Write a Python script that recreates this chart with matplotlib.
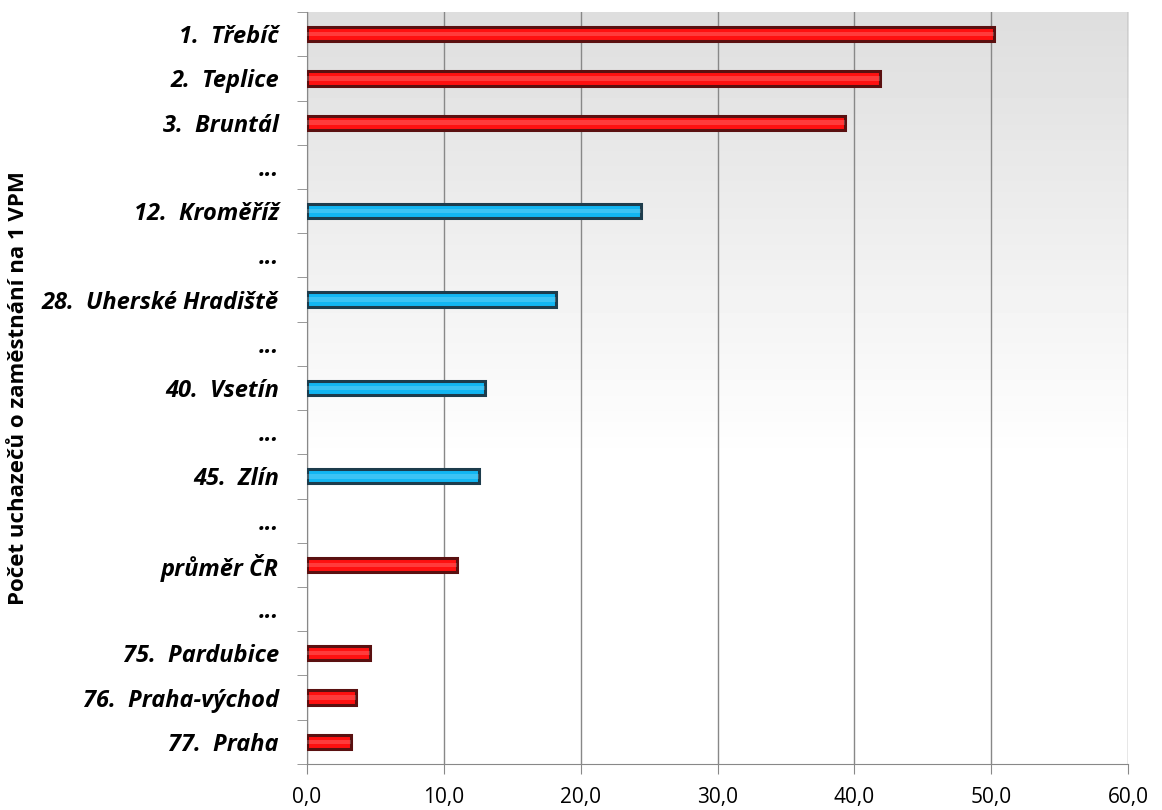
import numpy as np
import matplotlib
matplotlib.use("Agg")
from matplotlib import pyplot as plt

# data (top to bottom)
labels = ["1.  Třebíč", "2.  Teplice", "3.  Bruntál", "...", "12.  Kroměříž", "...",
          "28.  Uherské Hradiště", "...", "40.  Vsetín", "...", "45.  Zlín", "...",
          "průměr ČR", "...", "75.  Pardubice", "76.  Praha-východ", "77.  Praha"]
values = [50.2, 41.9, 39.3, 0, 24.4, 0, 18.2, 0, 13.0, 0, 12.6, 0, 11.0, 0, 4.6, 3.6, 3.2]
groups = ["r", "r", "r", "", "b", "", "b", "", "b", "", "b", "", "r", "", "r", "r", "r"]
xticks = [0, 10, 20, 30, 40, 50, 60]

face = {"r": "#ff1010", "b": "#12b6f2"}
edge = {"r": "#5a1010", "b": "#1d3c4c"}

plt.rcParams['font.family'] = ['Open Sans', 'DejaVu Sans']

fig = plt.figure(figsize=(11.62, 8.10), dpi=100)
ax = fig.add_axes([0.264, 0.057, 0.707, 0.928])

# gray gradient background, darker at the top
t = np.linspace(0, 1, 200)
grad = np.clip(0.87 + 0.13 * (t / 0.6), 0, 1)[:, None] * np.ones((1, 2))
ax.imshow(grad, extent=[0, 1, 0, 1], origin="upper", transform=ax.transAxes, cmap="gray",
          vmin=0, vmax=1, aspect="auto", zorder=0)

y = np.arange(len(labels))
for yi, v, g in zip(y, values, groups):
    if not g:
        continue
    ax.barh(yi, v, height=0.32, color=face[g], edgecolor=edge[g], linewidth=2.2, zorder=3)
    ax.barh(yi, v, height=0.1, color="white", alpha=0.18, linewidth=0, zorder=4)

ax.set_xlim(0, 60)
ax.set_ylim(len(labels) - 0.5, -0.5)
ax.set_xticks(xticks)
ax.set_xticklabels([f"{v:.1f}".replace(".", ",") for v in xticks], fontsize=15)
ax.set_yticks(y)
ax.set_yticklabels(labels, fontsize=17, fontweight="bold", fontstyle="italic")
ax.set_yticks(np.arange(-0.5, len(labels), 1), minor=True)
ax.tick_params(axis="y", which="major", length=0, pad=20)
ax.tick_params(axis="y", which="minor", length=7, color="#888888")
ax.tick_params(axis="x", length=7, color="#888888", pad=10)
ax.grid(axis="x", color="#888888", linewidth=1, zorder=1)
ax.set_axisbelow(True)
for s in ["top", "right"]:
    ax.spines[s].set_visible(False)
for s in ["left", "bottom"]:
    ax.spines[s].set_color("#888888")

ax.set_ylabel("Počet uchazečů o zaměstnání na 1 VPM", fontsize=16, fontweight="bold")
ax.yaxis.set_label_coords(-0.338, 0.5)

fig.savefig("out.png", dpi=100)
